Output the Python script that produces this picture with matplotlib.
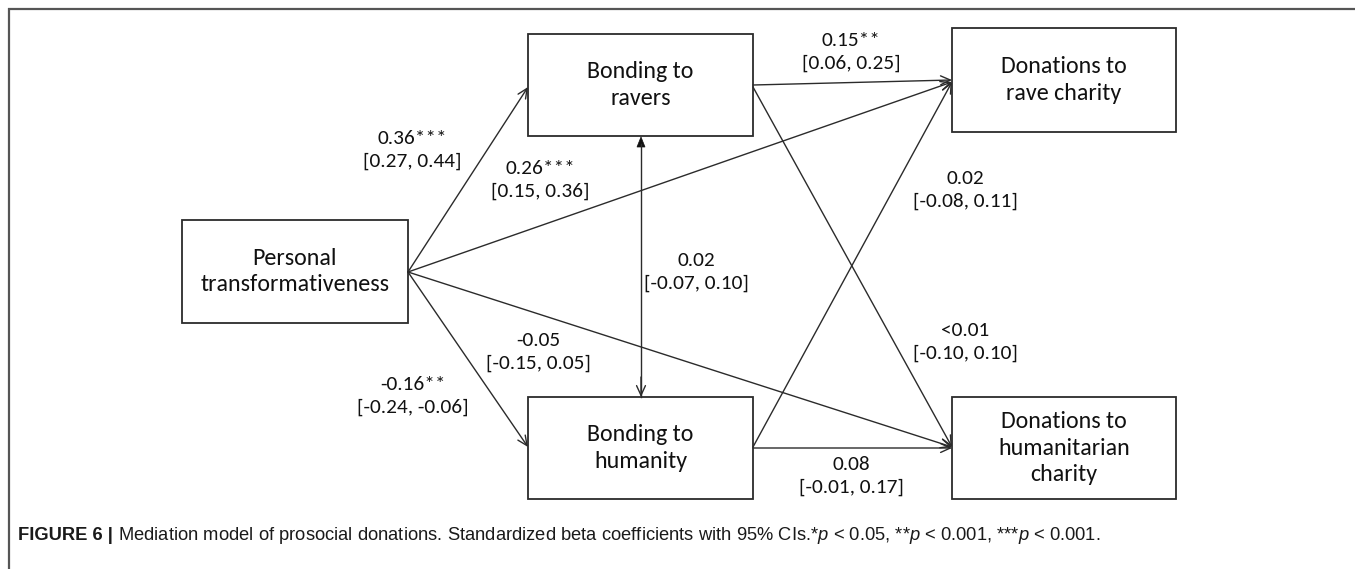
import matplotlib
matplotlib.use("Agg")
import matplotlib.pyplot as plt
from matplotlib.patches import Rectangle, FancyArrowPatch, Polygon

# ---------------- data ----------------
node_ids = ["PT", "BR", "BH", "DR", "DH"]
node_labels = ["Personal\ntransformativeness", "Bonding to\nravers", "Bonding to\nhumanity",
               "Donations to\nrave charity", "Donations to\nhumanitarian\ncharity"]
# box extents in pixel layout (x0, y0, x1, y1)
node_boxes = [(182, 220, 408, 323), (528, 34, 753, 136), (528, 397, 753, 499),
              (952, 28, 1176, 132), (952, 397, 1176, 499)]

# directed paths: (source, start point, target, end point)
path_src = ["PT", "PT", "PT", "PT", "BR", "BR", "BH", "BH"]
path_dst = ["BR", "DR", "DH", "BH", "DR", "DH", "DR", "DH"]
path_start = [(408, 272), (408, 272), (408, 272), (408, 272),
              (753, 85), (753, 87), (753, 447), (753, 448)]
path_end = [(528, 87), (952, 82), (952, 447), (528, 447),
            (952, 80), (952, 447), (952, 82), (952, 448)]

coef_text = ["0.36***", "0.26***", "-0.05", "-0.16**", "0.15**", "<0.01", "0.02", "0.08", "0.02"]
ci_text = ["[0.27, 0.44]", "[0.15, 0.36]", "[-0.15, 0.05]", "[-0.24, -0.06]",
           "[0.06, 0.25]", "[-0.10, 0.10]", "[-0.08, 0.11]", "[-0.01, 0.17]", "[-0.07, 0.10]"]
label_pos = [(412, 150), (540, 180), (538, 352), (413, 396),
             (851, 52), (965, 342), (965, 190), (851, 476), (696, 272)]

caption_bold = "FIGURE 6 |"
caption_rest = (" Mediation model of prosocial donations. Standardized beta coefficients with 95% CIs."
                "*$p$ < 0.05, **$p$ < 0.001, ***$p$ < 0.001.")

# ---------------- style ----------------
W, H = 1355, 569
plt.rcParams["mathtext.fontset"] = "custom"
plt.rcParams["mathtext.it"] = "Liberation Sans:italic"
plt.rcParams["mathtext.rm"] = "Liberation Sans"
diag_font = ["Carlito", "Lato", "DejaVu Sans"]
cap_font = ["Liberation Sans", "DejaVu Sans"]
line_col = "#2b2b2b"

fig = plt.figure(figsize=(W / 100, H / 100), dpi=100)
ax = fig.add_axes([0, 0, 1, 1])
ax.set_xlim(0, W)
ax.set_ylim(H, 0)
ax.axis("off")

# frame (top + left lines)
ax.plot([8, W], [8.5, 8.5], color="#555555", lw=1.6, solid_capstyle="butt")
ax.plot([8.5, 8.5], [8, H], color="#555555", lw=1.6, solid_capstyle="butt")

# boxes
for (x0, y0, x1, y1), lab in zip(node_boxes, node_labels):
    ax.add_patch(Rectangle((x0, y0), x1 - x0, y1 - y0, fill=False, ec=line_col, lw=1.3))
    ax.text((x0 + x1) / 2, (y0 + y1) / 2, lab, ha="center", va="center", fontsize=17.3,
            family=diag_font, color="#111111", linespacing=1.34)

# directed paths
for s, e in zip(path_start, path_end):
    arr = FancyArrowPatch(s, e, arrowstyle="->,head_length=7,head_width=3.2",
                          color=line_col, lw=1.0, shrinkA=0, shrinkB=0, mutation_scale=1)
    ax.add_patch(arr)

# correlation (double headed) between the two bonding boxes
cx = (node_boxes[1][0] + node_boxes[1][2]) / 2 + 0.5
ytop, ybot = node_boxes[1][3], node_boxes[2][1]
ax.plot([cx, cx], [ytop + 8, ybot], color=line_col, lw=1.0)
ax.add_patch(Polygon([(cx, ytop + 1), (cx - 4, ytop + 11), (cx + 4, ytop + 11)],
                     closed=True, fc="#111111", ec="#111111", lw=0.5))
ax.add_patch(FancyArrowPatch((cx, ybot - 20), (cx, ybot), arrowstyle="->,head_length=7,head_width=3.2",
                             color=line_col, lw=1.0, shrinkA=0, shrinkB=0, mutation_scale=1))

# path labels
for c, ci, (x, y) in zip(coef_text, ci_text, label_pos):
    ax.text(x, y, c + "\n" + ci, ha="center", va="center", fontsize=15.3,
            family=diag_font, color="#111111", linespacing=1.42)

# caption
t1 = ax.text(18, 540, caption_bold, ha="left", va="baseline", fontsize=13.2,
             family=cap_font, weight="bold", color="#1a1a1a")
fig.canvas.draw()
bb = t1.get_window_extent()
x_next = ax.transData.inverted().transform((bb.x1, bb.y0))[0]
ax.text(x_next, 540, caption_rest, ha="left", va="baseline", fontsize=13.2,
        family=cap_font, color="#1a1a1a")

fig.savefig("out.png", dpi=100)
